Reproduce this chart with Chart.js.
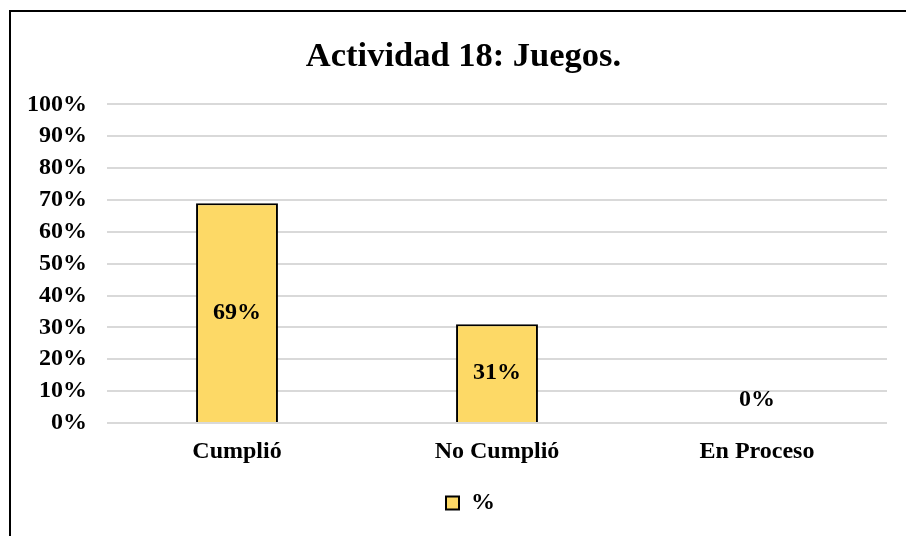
<!DOCTYPE html>
<html>
<head>
<meta charset="utf-8">
<script src="https://cdn.jsdelivr.net/npm/chart.js@4/dist/chart.umd.min.js"></script>
<style>
    html, body { margin: 0; padding: 0; background: #fff; }
    #wrap { position: relative; width: 906px; height: 536px; }
    #frame { position: absolute; left: 9px; top: 10px; width: 897px; height: 526px; border-left: 2px solid #000; border-top: 2px solid #000; box-sizing: border-box; }
    #actividadChart { position: absolute; left: 0; top: 0; }
</style>
</head>
<body>
<div id="wrap">
    <div id="frame"></div>
    <canvas id="actividadChart" width="906" height="536"></canvas>
</div>
<script>
var categoryLabels = ["Cumplió", "No Cumplió", "En Proceso"];
var percentValues = [69, 31, 0];
var seriesLabel = "%";
var chartTitle = "Actividad 18: Juegos.";

var fontFamily = "'Liberation Serif', 'Times New Roman', serif";

//draws the value labels in the middle of each bar, zero values sit just above the axis
var barValueLabels = {
    id: 'barValueLabels',
    afterDatasetsDraw: function (chart) {
        var ctx = chart.ctx;
        var meta = chart.getDatasetMeta(0);
        ctx.save();
        ctx.font = "bold 24px " + fontFamily;
        ctx.fillStyle = "#000";
        ctx.textAlign = "center";
        ctx.textBaseline = "middle";
        meta.data.forEach(function (bar, i) {
            var value = chart.data.datasets[0].data[i];
            var y = value > 0 ? (bar.y + bar.base) / 2 : bar.base - 23;
            ctx.fillText(value + "%", bar.x, y);
        });
        ctx.restore();
    }
};

//title and legend sit a bit right of the canvas centre in the original
var blockShift = {
    id: 'blockShift',
    afterLayout: function (chart) {
        chart.titleBlock.left += 40;
        chart.legend.left += 54;
    }
};

var barChartData = {
    labels: categoryLabels,
    datasets: [
        {
            label: seriesLabel,
            data: percentValues,
            backgroundColor: "#FDD966",
            borderColor: "#000000",
            borderWidth: 2,
            borderSkipped: 'bottom',
            categoryPercentage: 1,
            barPercentage: 0.315
        }
    ]
};

var barChartOptions = {
    responsive: false,
    animation: false,
    layout: {
        padding: { left: 0, right: 19, top: 0, bottom: 11 }
    },
    plugins: {
        title: {
            display: true,
            text: chartTitle,
            color: "#000",
            font: { family: fontFamily, size: 34.5, weight: 'bold', lineHeight: 1.2 },
            padding: { top: 36, bottom: 27 }
        },
        legend: {
            display: true,
            position: 'bottom',
            labels: {
                color: "#000",
                font: { family: fontFamily, size: 24, weight: 'bold' },
                boxWidth: 13,
                boxHeight: 13,
                padding: 10,
                generateLabels: function (chart) {
                    return [{
                        text: seriesLabel,
                        fillStyle: "#FDD966",
                        strokeStyle: "#000",
                        lineWidth: 2,
                        datasetIndex: 0
                    }];
                }
            }
        },
        tooltip: { enabled: false }
    },
    scales: {
        x: {
            grid: { display: false, drawTicks: false },
            border: { display: false },
            ticks: {
                color: "#000",
                padding: 14,
                font: { family: fontFamily, size: 24, weight: 'bold' }
            },
            afterFit: function (scale) { scale.height = 58; }
        },
        y: {
            min: 0,
            max: 100,
            grid: { color: "#D9D9D9", lineWidth: 2, drawTicks: false },
            border: { display: false },
            ticks: {
                stepSize: 10,
                color: "#000",
                padding: 20,
                font: { family: fontFamily, size: 24, weight: 'bold' },
                callback: function (value) { return value + "%"; }
            },
            afterFit: function (scale) { scale.width = 107; }
        }
    }
};

var barChartCanvas = document.getElementById("actividadChart").getContext("2d");
var barChart = new Chart(barChartCanvas, {
    type: 'bar',
    data: barChartData,
    options: barChartOptions,
    plugins: [barValueLabels, blockShift]
});
</script>
</body>
</html>
